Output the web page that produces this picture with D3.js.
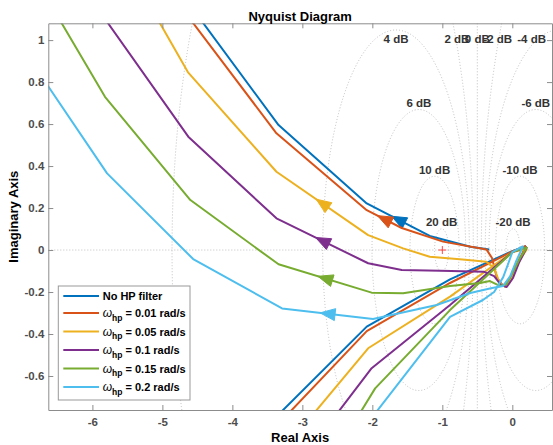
<!DOCTYPE html>
<html>
<head>
<meta charset="utf-8">
<script src="https://cdn.jsdelivr.net/npm/d3@7"></script>
<style>
  body { margin: 0; background: #fff; }
  text { font-family: "Liberation Sans", Arial, Helvetica, sans-serif; }
</style>
</head>
<body>
<div id="chart"></div>
<script>
// series (MATLAB default colour order)
const seriesLabels = ["No HP filter", "0.01", "0.05", "0.1", "0.15", "0.2"];
const seriesColors = ["#0072BD", "#D95319", "#EDB120", "#7E2F8E", "#77AC30", "#4DBEEE"];

// upper branch: from upper-left towards the origin, [re, im]
const noHpUpper = [[-4.68, 1.2], [-3.34, 0.595], [-2.08, 0.222], [-1.18, 0.067], [-0.60, 0.016], [-0.33, 0.002]];
const hp001Upper = [[-4.83, 1.2], [-3.37, 0.556], [-2.08, 0.19], [-1.58, 0.105], [-0.99, 0.04], [-0.37, 0.003],
  [-0.29, -0.038], [-0.22, -0.133], [-0.13, -0.171], [-0.03, -0.133], [0.08, -0.057], [0.196, 0.019]];
const hp005Upper = [[-5.24, 1.2], [-4.63, 0.845], [-3.37, 0.373], [-2.06, 0.071], [-1.56, 0.008], [-1.18, -0.032],
  [-0.75, -0.044], [-0.37, -0.056], [-0.26, -0.086], [-0.18, -0.157], [-0.10, -0.176], [-0.02, -0.143], [0.08, -0.062], [0.21, 0.005]];
const hp01Upper = [[-6.03, 1.2], [-4.63, 0.54], [-3.37, 0.151], [-2.06, -0.063], [-1.58, -0.095], [-1.03, -0.099],
  [-0.41, -0.103], [-0.26, -0.124], [-0.16, -0.167], [-0.08, -0.176], [0.01, -0.133], [0.10, -0.057], [0.21, 0.014]];
const hp015Upper = [[-6.65, 1.2], [-5.82, 0.73], [-4.60, 0.238], [-3.34, -0.068], [-2.01, -0.203], [-1.56, -0.206],
  [-0.89, -0.171], [-0.46, -0.157], [-0.32, -0.148], [-0.18, -0.171], [-0.08, -0.162], [0.01, -0.105], [0.11, -0.038], [0.21, 0.014]];
const hp02Upper = [[-6.89, 0.907], [-5.79, 0.365], [-4.56, -0.043], [-3.29, -0.278], [-1.99, -0.329], [-1.08, -0.262],
  [-0.60, -0.205], [-0.29, -0.181], [-0.13, -0.171], [-0.03, -0.124], [0.05, -0.057], [0.153, 0.019]];

// lower branch: from the bottom edge towards the origin
const noHpLower = [[-3.57, -0.86], [-2.08, -0.365], [-0.89, -0.14], [0.0, -0.005], [0.196, 0.019]];
const hp001Lower = [[-3.43, -0.86], [-2.08, -0.386], [-0.89, -0.157], [0.0, -0.007], [0.196, 0.019]];
const hp005Lower = [[-3.04, -0.86], [-2.06, -0.468], [-0.89, -0.222], [0.0, -0.01], [0.21, 0.005]];
const hp01Lower = [[-2.69, -0.86], [-2.01, -0.563], [-0.89, -0.262], [0.0, -0.01], [0.21, 0.014]];
const hp015Lower = [[-2.33, -0.86], [-1.96, -0.659], [-0.89, -0.286], [0.0, -0.01], [0.21, 0.014]];
const hp02Lower = [[-2.15, -0.86], [-0.89, -0.318], [-0.42, -0.238], [-0.26, -0.2], [-0.13, -0.129], [-0.05, -0.057], [0.0, -0.01], [0.153, 0.019]];

const upperBranches = [noHpUpper, hp001Upper, hp005Upper, hp01Upper, hp015Upper, hp02Upper];
const lowerBranches = [noHpLower, hp001Lower, hp005Lower, hp01Lower, hp015Lower, hp02Lower];
// segment of the upper branch that carries the direction arrow
const arrowSeg = [2, 2, 2, 2, 3, 3];

const dbLevels = [-20, -10, -6, -4, -2, 0, 2, 4, 6, 10, 20];
const xTicks = [-6, -5, -4, -3, -2, -1, 0];
const yTicks = [-0.6, -0.4, -0.2, 0, 0.2, 0.4, 0.6, 0.8, 1];

const width = 553;
const height = 445;
const plot = { left: 48.3, right: 552, top: 23.3, bottom: 410 };

const svg = d3.select("#chart").append("svg")
  .attr("width", width)
  .attr("height", height);

const x = d3.scaleLinear().domain([-6.63, 0.567]).range([plot.left, plot.right]);
const y = d3.scaleLinear().domain([-0.762, 1.08]).range([plot.bottom, plot.top]);

svg.append("clipPath").attr("id", "clip")
  .append("rect")
  .attr("x", plot.left).attr("y", plot.top)
  .attr("width", plot.right - plot.left).attr("height", plot.bottom - plot.top);

const grid = svg.append("g").attr("clip-path", "url(#clip)");
const gridStyle = sel => sel.attr("fill", "none").attr("stroke", "#b0b0b0")
  .attr("stroke-width", 0.8).attr("stroke-dasharray", "1,2");

// constant-magnitude circles
const circles = dbLevels.filter(d => d !== 0).map(db => {
  const m = Math.pow(10, db / 20);
  return { db, c: -m * m / (m * m - 1), r: Math.abs(m / (m * m - 1)) };
});

grid.selectAll("ellipse").data(circles).join("ellipse")
  .attr("cx", d => x(d.c))
  .attr("cy", y(0))
  .attr("rx", d => x(d.c + d.r) - x(d.c))
  .attr("ry", d => y(0) - y(d.r))
  .call(gridStyle);

grid.append("line")
  .attr("x1", x(-0.5)).attr("x2", x(-0.5))
  .attr("y1", plot.top).attr("y2", plot.bottom)
  .call(gridStyle);

grid.append("line")
  .attr("x1", plot.left).attr("x2", plot.right)
  .attr("y1", y(0)).attr("y2", y(0))
  .call(gridStyle);

// dB labels
const labelY = 0.975;
const xMax = x.domain()[1];
const dbLabels = dbLevels.map(db => {
  if (db === 0) return { db, lx: -0.5, ly: labelY };
  const m = Math.pow(10, db / 20);
  const c = -m * m / (m * m - 1);
  const r = Math.abs(m / (m * m - 1));
  if (Math.abs(db) <= 2 || c > xMax) {
    const dx = Math.sqrt(r * r - labelY * labelY);
    return { db, lx: c < 0 ? c + dx : c - dx, ly: labelY };
  }
  return { db, lx: c, ly: Math.min(r, labelY) };
});

svg.append("g").selectAll("text").data(dbLabels).join("text")
  .attr("x", d => x(d.lx))
  .attr("y", d => y(d.ly) - 2.5)
  .attr("text-anchor", "middle")
  .attr("font-size", 11.5)
  .attr("font-weight", "bold")
  .attr("fill", "#333")
  .text(d => `${d.db} dB`);

// critical point
const crit = svg.append("g").attr("stroke", "#ff3333").attr("stroke-width", 0.9);
crit.append("line").attr("x1", x(-1) - 4).attr("x2", x(-1) + 4).attr("y1", y(0)).attr("y2", y(0));
crit.append("line").attr("x1", x(-1)).attr("x2", x(-1)).attr("y1", y(0) - 4).attr("y2", y(0) + 4);

// curves
const line = d3.line().x(d => x(d[0])).y(d => y(d[1]));
const curves = svg.append("g").attr("clip-path", "url(#clip)");

seriesColors.forEach((color, i) => {
  [lowerBranches[i], upperBranches[i]].forEach(branch => {
    curves.append("path")
      .datum(branch)
      .attr("d", line)
      .attr("fill", "none")
      .attr("stroke", color)
      .attr("stroke-width", 2)
      .attr("stroke-linejoin", "round");
  });
  const k = arrowSeg[i];
  const p0 = upperBranches[i][k];
  const p1 = upperBranches[i][k + 1];
  const mx = (x(p0[0]) + x(p1[0])) / 2;
  const my = (y(p0[1]) + y(p1[1])) / 2;
  const ang = Math.atan2(y(p0[1]) - y(p1[1]), x(p0[0]) - x(p1[0]));
  const ux = Math.cos(ang), uy = Math.sin(ang);
  const len = 7.5, half = 6;
  const tri = [
    [mx + ux * len, my + uy * len],
    [mx - ux * len - uy * half, my - uy * len + ux * half],
    [mx - ux * len + uy * half, my - uy * len - ux * half]
  ];
  curves.append("path")
    .attr("d", "M" + tri.map(p => p.join(",")).join("L") + "Z")
    .attr("fill", color)
    .attr("stroke", color)
    .attr("stroke-width", 1);
});

// axes
const axisColor = "#8c8c8c";
const fmt = d => String(+d.toFixed(1));

function styleAxis(g) {
  g.select(".domain").attr("stroke", axisColor);
  g.selectAll(".tick line").attr("stroke", axisColor);
  g.selectAll(".tick text")
    .attr("fill", "#4d4d4d")
    .attr("font-size", 11.5)
    .attr("font-weight", "bold")
    .attr("font-family", "\"Liberation Sans\", Arial, sans-serif");
}

svg.append("g")
  .attr("transform", `translate(0,${plot.bottom})`)
  .call(d3.axisBottom(x).tickValues(xTicks).tickFormat(fmt).tickSizeInner(-5).tickSizeOuter(0).tickPadding(8))
  .call(styleAxis);

svg.append("g")
  .attr("transform", `translate(0,${plot.top})`)
  .call(d3.axisTop(x).tickValues(xTicks).tickFormat("").tickSizeInner(-5).tickSizeOuter(0))
  .call(styleAxis);

svg.append("g")
  .attr("transform", `translate(${plot.left},0)`)
  .call(d3.axisLeft(y).tickValues(yTicks).tickFormat(fmt).tickSizeInner(-5).tickSizeOuter(0).tickPadding(4))
  .call(styleAxis);

svg.append("g")
  .attr("transform", `translate(${plot.right},0)`)
  .call(d3.axisRight(y).tickValues(yTicks).tickFormat("").tickSizeInner(-5).tickSizeOuter(0))
  .call(styleAxis);

// titles
svg.append("text")
  .attr("x", (plot.left + plot.right) / 2).attr("y", 20.5)
  .attr("text-anchor", "middle").attr("font-size", 13).attr("font-weight", "bold")
  .text("Nyquist Diagram");

svg.append("text")
  .attr("x", (plot.left + plot.right) / 2).attr("y", 441.5)
  .attr("text-anchor", "middle").attr("font-size", 13).attr("font-weight", "bold")
  .text("Real Axis");

svg.append("text")
  .attr("transform", `translate(18,${(plot.top + plot.bottom) / 2}) rotate(-90)`)
  .attr("text-anchor", "middle").attr("font-size", 13).attr("font-weight", "bold")
  .text("Imaginary Axis");

// legend
const legend = svg.append("g").attr("transform", "translate(58.3,286)");
legend.append("rect")
  .attr("width", 131.7).attr("height", 114)
  .attr("fill", "#fff").attr("stroke", "#999").attr("stroke-width", 1);

const rowY = [10, 27, 45.5, 64, 82.5, 101];
seriesLabels.forEach((lab, i) => {
  const row = legend.append("g").attr("transform", `translate(0,${rowY[i]})`);
  row.append("line")
    .attr("x1", 5).attr("x2", 40.7)
    .attr("stroke", seriesColors[i]).attr("stroke-width", 2);
  const t = row.append("text")
    .attr("x", 44.4).attr("y", 4)
    .attr("font-size", 11).attr("font-weight", "bold").attr("fill", "#000");
  if (i === 0) {
    t.text(lab);
  } else {
    t.append("tspan").attr("font-weight", "normal").attr("font-style", "italic").attr("font-size", 12).text("ω");
    t.append("tspan").attr("font-size", 8.5).attr("dy", 3.5).text("hp");
    t.append("tspan").attr("dy", -3.5).text(` = ${lab} rad/s`);
  }
});
</script>
</body>
</html>
